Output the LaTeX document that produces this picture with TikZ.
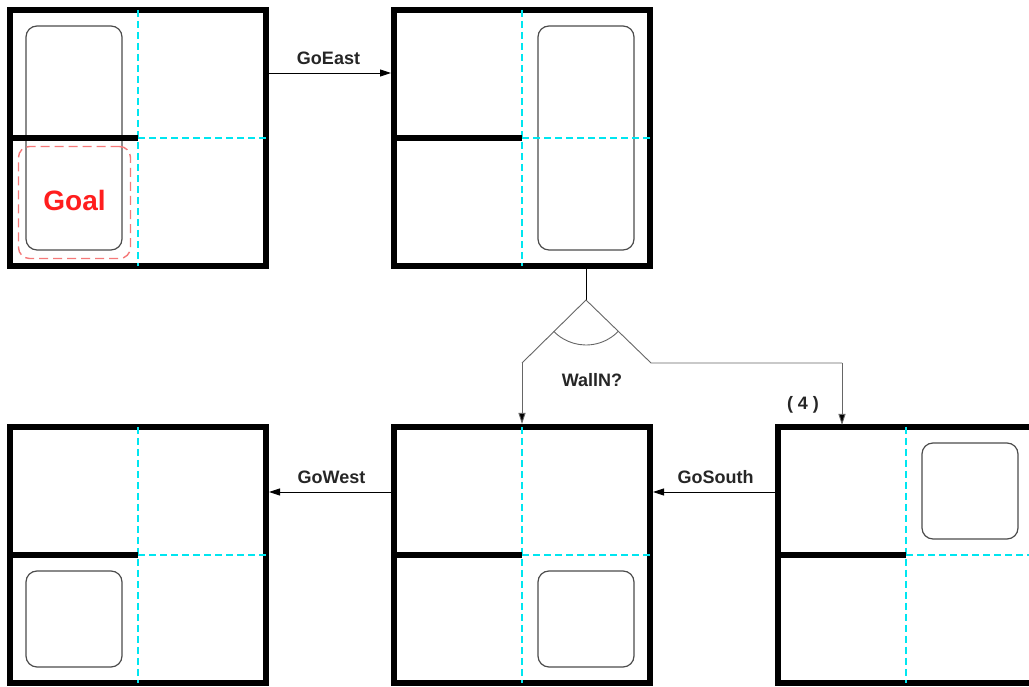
\documentclass[tikz,border=0pt]{standalone}
\usepackage{fontspec}
\setmainfont{Liberation Sans}
\usetikzlibrary{arrows.meta,calc}
\definecolor{gridcyan}{RGB}{0,230,240}
\definecolor{goalred}{RGB}{255,30,30}
\definecolor{goaldash}{RGB}{245,120,120}
\begin{document}
\begin{tikzpicture}[x=1pt,y=1pt,
  gridbox/.style={draw=black,line width=6pt,minimum width=256pt,minimum height=256pt,
    inner sep=0pt,outer sep=0pt},
  wall/.style={line width=5.5pt},
  cell/.style={draw=gridcyan,line width=1.2pt,dash pattern=on 7pt off 4pt},
  robot/.style={draw=black!70,line width=1.2pt,rounded corners=11pt,inner sep=0pt,
    outer sep=0pt,minimum width=96pt},
  goalarea/.style={draw=goaldash,line width=1.4pt,dash pattern=on 9pt off 5pt,
    rounded corners=11pt,minimum width=112pt,minimum height=112pt,inner sep=0pt},
  tip/.style={-{Triangle[length=11pt,width=7pt,fill=black]}},
  act/.style={line width=0.9pt,tip},
  branch/.style={draw=black!60,line width=0.9pt},
  lbl/.style={font=\bfseries\fontsize{18}{21}\selectfont,text=black!85,inner sep=0pt}]
\clip (0,0) rectangle (1029,687);
\fill[white] (0,0) rectangle (1029,687);

% the five maze states
\node[gridbox] (b1) at (138,549) {};
\node[gridbox] (b2) at (522,549) {};
\node[gridbox] (b3) at (138,132) {};
\node[gridbox] (b4) at (522,132) {};
\node[gridbox] (b5) at (906,132) {};

% belief regions of the robot
\node[robot,minimum height=224pt] (r1) at (74,549) {};
\node[robot,minimum height=224pt] (r2) at (586,549) {};
\node[robot,minimum height=96pt] (r3) at (74,68) {};
\node[robot,minimum height=96pt] (r4) at (586,68) {};
\node[robot,minimum height=96pt] (r5) at (970,196) {};

% cell grid and the interior wall of each maze
\foreach \b in {b1,b2,b3,b4,b5}{
  \draw[cell] (\b.north) -- (\b.south);
  \draw[cell] (\b.center) -- (\b.east);
  \draw[wall] (\b.west) -- (\b.center);
}

% goal cell
\node[goalarea] (goal) at (74.5,484.5) {};
\node[font=\bfseries\fontsize{28}{32}\selectfont,text=goalred] (goaltxt) at (74.5,486) {Goal};

% actions
\draw[act] (b1.east |- 0,614) -- ($(b2.west |- 0,614)+(-3,0)$) node[lbl,midway,above=8pt] (goeast) {GoEast};
\draw[act] (b4.west |- 0,195) -- ($(b3.east |- 0,195)+(3,0)$) node[lbl,midway,above=8pt] (gowest) {GoWest};
\draw[act] (b5.west |- 0,195) -- ($(b4.east |- 0,195)+(3,0)$) node[lbl,midway,above=8pt] (gosouth) {GoSouth};

% sensing branch
\coordinate (apex) at (586,387);
\coordinate (lknee) at (522,324);
\coordinate (rknee) at (651,324);
\coordinate (rdrop) at (842,324);
\coordinate (rtop) at (842,259);
\draw[line width=1pt] (r2 |- b2.south) -- (apex);
\draw[branch] (apex) -- (lknee);
\draw[branch] (apex) -- (rknee) -- (rdrop);
\draw[branch] ([shift=(224:45)]apex) arc[start angle=224,end angle=316,radius=45];
\draw[branch,tip] (lknee) -- ($(b4.north)+(0,3)$);
\draw[branch,tip] (rdrop) -- ($(rtop)+(0,3)$);
\node[lbl] (walln) at (592,307) {WallN?};
\node[lbl] (four) at (803,282) {( 4 )};
\end{tikzpicture}
\end{document}
